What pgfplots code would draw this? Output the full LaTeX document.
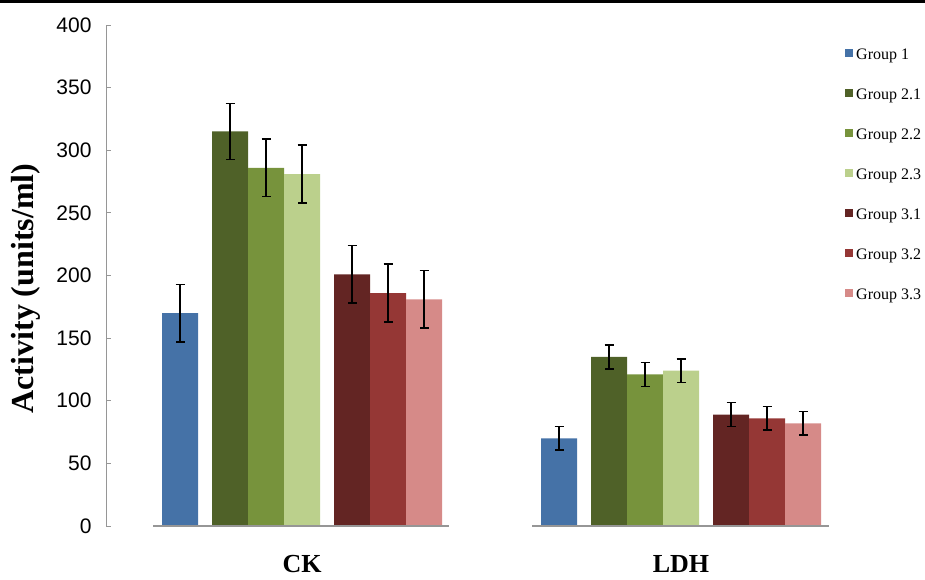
\documentclass[border=0pt]{standalone}
\usepackage{fontspec}
\setmainfont{Liberation Serif}
\newfontfamily\arialfont{Liberation Sans}
\usepackage{pgfplots}
\pgfplotsset{compat=1.18}
\definecolor{g1}{RGB}{69,114,167}
\definecolor{g21}{RGB}{79,97,40}
\definecolor{g22}{RGB}{119,147,60}
\definecolor{g23}{RGB}{187,208,140}
\definecolor{g31}{RGB}{99,37,35}
\definecolor{g32}{RGB}{149,55,53}
\definecolor{g33}{RGB}{214,138,136}
\definecolor{axgray}{RGB}{150,150,150}
\begin{document}
\begin{tikzpicture}
\useasboundingbox (0,0) rectangle (925pt,579pt);
\fill[black] (0,575.5pt) rectangle (925pt,579pt);
\begin{axis}[
  at={(106pt,53pt)}, anchor=south west,
  scale only axis, width=771pt, height=501pt,
  xmin=106, xmax=877, ymin=0, ymax=400,
  ybar, bar width=36, bar shift=0pt,
  axis y line*=left, axis x line*=bottom,
  x axis line style={draw=none},
  y axis line style={-, draw=axgray, line width=1pt},
  xtick={302,681}, xticklabels={CK,LDH},
  xtick style={draw=none},
  xticklabel style={font=\bfseries\fontsize{26}{26}\selectfont, yshift=-21pt},
  ytick={0,50,...,400},
  ytick align=inside,
  ytick style={draw=axgray, line width=1pt},
  major tick length=5pt,
  /pgf/number format/assume math mode=true,
  yticklabel style={font=\arialfont\fontsize{21}{21}\selectfont, xshift=-11pt},
  ylabel={Activity (units/ml)},
  every axis y label/.style={at={(axis description cs:-0.1044,0.474)}, rotate=90, anchor=center, font=\bfseries\fontsize{32}{32}\selectfont},
  legend style={draw=none, fill=none, at={(axis description cs:0.9546,0.958)}, anchor=north west,
    font=\fontsize{16}{16}\selectfont, row sep=25pt, column sep=3pt,
    nodes={inner sep=0pt, text height=11pt, text depth=4pt}},
  legend cell align=left,
  legend image code/.code={\fill[#1,draw=none] (0pt,-1pt) rectangle (8pt,7pt);},
  error bars/y dir=both, error bars/y explicit,
  error bars/error bar style={line width=1.5pt, black},
  error bars/error mark options={rotate=90, mark size=4.5pt, line width=1.5pt, black},
  clip=false,
]
\addplot[fill=g1, draw=none] coordinates {(180,170) +- (0,23) (559,70) +- (0,9.5)};
\addlegendentry{Group 1}
\addplot[fill=g21, draw=none] coordinates {(230,315) +- (0,22.5) (609,135) +- (0,9.7)};
\addlegendentry{Group 2.1}
\addplot[fill=g22, draw=none] coordinates {(266,286) +- (0,23) (645,121) +- (0,9.5)};
\addlegendentry{Group 2.2}
\addplot[fill=g23, draw=none] coordinates {(302,281) +- (0,23) (681,124) +- (0,9.5)};
\addlegendentry{Group 2.3}
\addplot[fill=g31, draw=none] coordinates {(352,201) +- (0,23) (731,89) +- (0,9.5)};
\addlegendentry{Group 3.1}
\addplot[fill=g32, draw=none] coordinates {(388,186) +- (0,23) (767,86) +- (0,9.5)};
\addlegendentry{Group 3.2}
\addplot[fill=g33, draw=none] coordinates {(424,181) +- (0,23) (803,82) +- (0,9.5)};
\addlegendentry{Group 3.3}
\addplot[sharp plot, draw=axgray, line width=2pt, forget plot, no marks, error bars/y dir=none] coordinates {(153,0) (449,0)};
\addplot[sharp plot, draw=axgray, line width=2pt, forget plot, no marks, error bars/y dir=none] coordinates {(532,0) (829,0)};
\end{axis}
\end{tikzpicture}
\end{document}
